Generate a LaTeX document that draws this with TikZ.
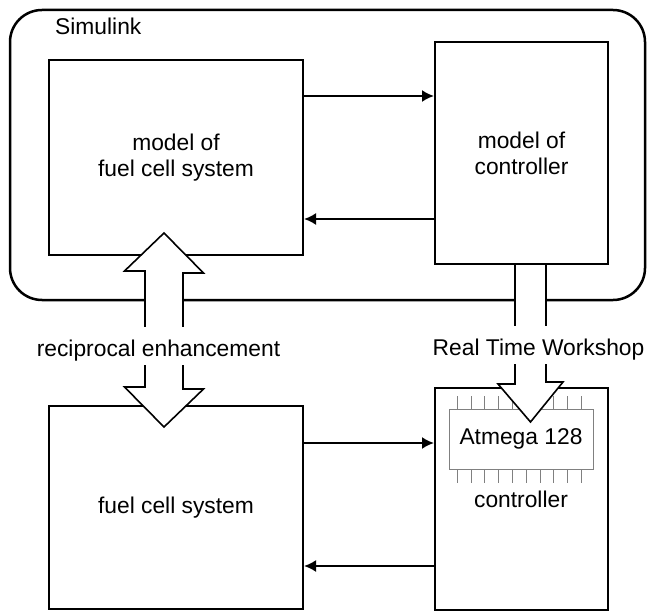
\documentclass[tikz,border=0pt]{standalone}
\usepackage{fontspec}
\setmainfont{Liberation Sans}
\usepackage{tikz}
\usetikzlibrary{arrows.meta}
\usetikzlibrary{positioning}
\tikzset{
  box/.style={draw, line width=2pt, inner sep=0pt, align=center,
    font=\fontsize{22.8}{26}\selectfont},
  chip/.style={draw=black!50, line width=1pt, inner sep=0pt,
    font=\fontsize{22.8}{26}\selectfont},
  pin/.style={draw=black!50, line width=0.8pt},
  flow/.style={line width=2pt, -{Latex[length=12pt,width=12pt]}},
  blockarrow/.style={draw, fill=white, line width=1.6pt, line join=miter},
  caption/.style={fill=white, inner sep=0pt, anchor=base,
    text height=29pt, text depth=9pt,
    font=\fontsize{22.8}{26}\selectfont},
}

\begin{document}
\begin{tikzpicture}[x=1pt, y=-1pt]

  \useasboundingbox (0,0) rectangle (647,612);

  % Simulink frame
  \draw[line width=2.5pt, rounded corners=32pt] (10,10) rectangle (645,300);
  \node[anchor=base west, inner sep=0pt, font=\fontsize{22.8}{26}\selectfont]
    (simulink) at (55,35) {Simulink};

  % Define nodes
  \node[box, minimum width=254pt, minimum height=195pt] (mfcs) at (176,157.5)
    {model of\\fuel cell system};
  \node[box, minimum width=173pt, minimum height=222pt] (mctrl) at (521.5,153)
    {model of\\controller};
  \node[box, minimum width=254pt, minimum height=203pt] (fcs) at (176,507.5)
    {fuel cell system};
  \node[box, minimum width=173pt, minimum height=222pt] (ctrl) at (521.5,499) {};

  \node[chip, minimum width=144pt, minimum height=60pt] (atmega) at (521,439)
    {Atmega 128};
  \node[anchor=base, inner sep=0pt, font=\fontsize{22.8}{26}\selectfont]
    (ctrllabel) at (521,507) {controller};

  % chip pins
  \foreach \i in {0,...,9} {
    \draw[pin] ([xshift=8.7pt+13.8pt*\i]atmega.north west) -- ++(0,-13);
    \draw[pin] ([xshift=8.7pt+13.8pt*\i]atmega.south west) -- ++(0,13);
  }

  % Connect nodes
  \draw[flow] (mfcs.east |- 0,96) -- (mctrl.west |- 0,96);
  \draw[flow] (mctrl.west |- 0,219) -- (mfcs.east |- 0,219);
  \draw[flow] (fcs.east |- 0,443) -- (ctrl.west |- 0,443);
  \draw[flow] (ctrl.west |- 0,566) -- (fcs.east |- 0,566);

  % Block arrows
  \coordinate (up tip) at ([xshift=-12pt, yshift=23pt]mfcs.south);
  \coordinate (down tip) at ([xshift=-12pt, yshift=-22pt]fcs.north);
  \draw[blockarrow] (up tip) -- ++(39.5,40) -- ++(-20.5,0) -- ++(0,116)
    -- ++(20.5,0) -- (down tip) -- ++(-39.5,-40) -- ++(20.5,0)
    -- ++(0,-116) -- ++(-20.5,0) -- cycle;

  \coordinate (rtw tail) at ([xshift=9pt]mctrl.south);
  \coordinate (rtw tip) at ([xshift=9pt, yshift=-35pt]ctrl.north);
  \draw[blockarrow] ([xshift=-15.5pt]rtw tail) -- ++(0,119) -- ++(-17,0)
    -- (rtw tip) -- ++(32.5,-40) -- ++(-17,0) -- ([xshift=15.5pt]rtw tail);

  % Labels
  \node[caption] (recip) at (158.5,356) {reciprocal enhancement};
  \node[caption] (rtw) at (538.5,355) {Real Time Workshop};

\end{tikzpicture}
\end{document}
